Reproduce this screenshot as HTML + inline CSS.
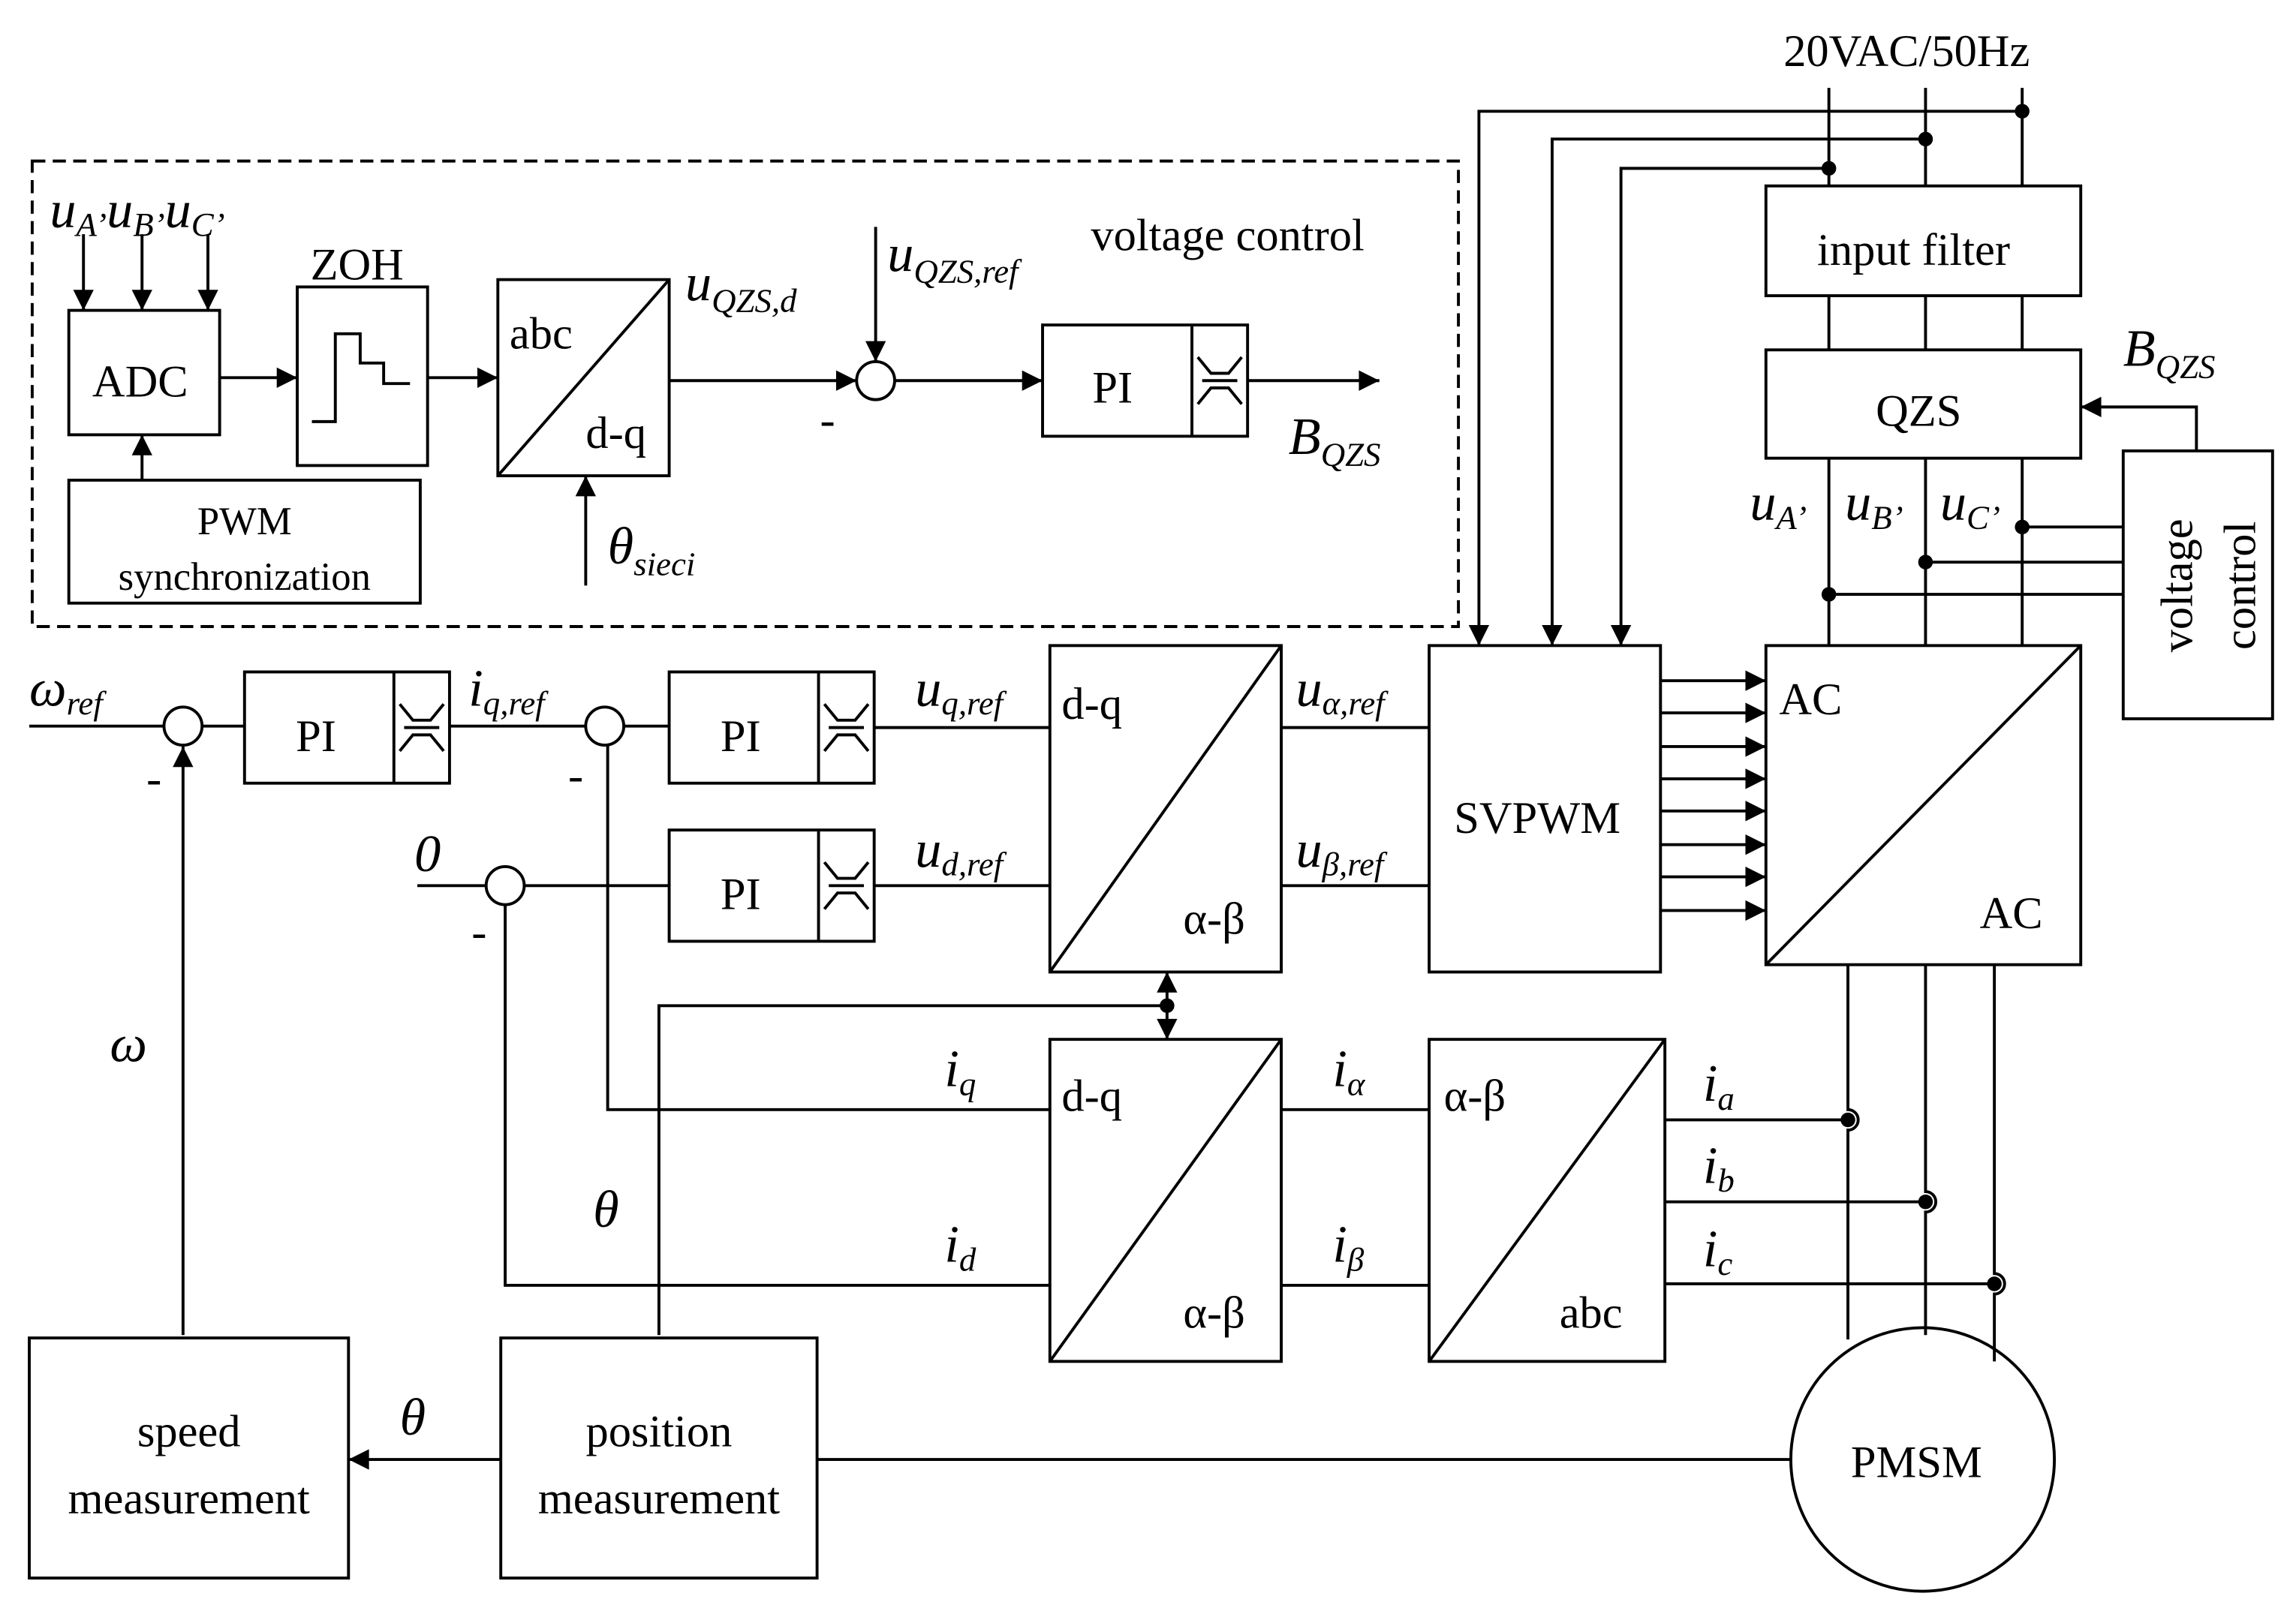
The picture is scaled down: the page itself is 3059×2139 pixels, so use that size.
<!DOCTYPE html>
<html><head><meta charset="utf-8"><style>
html,body{margin:0;padding:0;background:#fff}
svg{display:block}
text{font-family:"Liberation Serif",serif;fill:#000}
.i{font-style:italic}
</style></head><body>
<svg width="3059" height="2139" viewBox="0 0 1568 1096.4" xmlns="http://www.w3.org/2000/svg">
<defs>
<marker id="a" viewBox="0 0 10 10" refX="10" refY="5" markerWidth="22" markerHeight="14" markerUnits="userSpaceOnUse" orient="auto"><path d="M0,0L10,5L0,10z"/></marker>
<g id="sat"><path d="M-15,-16L-6,-5H6L15,-16M-15,16L-6,5H6L15,16M-12,0H12" fill="none" stroke="#000" stroke-width="2"/></g>
</defs>
<g fill="none" stroke="#000" stroke-width="2">
<rect x="22" y="110" width="974" height="318" stroke-dasharray="9,5"/>
<rect x="47" y="212" width="103" height="85"/>
<rect x="47" y="328" width="240" height="84"/>
<rect x="203" y="196" width="89" height="122"/>
<path d="M213,288H229V228H246V248H262V262H280"/>
<rect x="340" y="191" width="117" height="134"/><path d="M340,325L457,191"/>
<circle cx="598" cy="260" r="13"/>
<rect x="712" y="222" width="140" height="76"/><path d="M814,222V298"/>
<g marker-end="url(#a)">
<path d="M57,160V212"/><path d="M97,160V212"/><path d="M142,160V212"/><path d="M97,328V297"/><path d="M150,258H203"/><path d="M292,258H340"/><path d="M400,400V325"/><path d="M457,260H585"/><path d="M598,155V247"/><path d="M611,260H712"/><path d="M852,260H942"/>
<path d="M1381,76H1010V441"/><path d="M1315,95H1060V441"/><path d="M1249,115H1107V441"/>
<path d="M1500,308V278H1421"/>
<path d="M1134,465H1206"/><path d="M1134,487H1206"/><path d="M1134,510H1206"/><path d="M1134,532H1206"/><path d="M1134,554H1206"/><path d="M1134,577H1206"/><path d="M1134,599H1206"/><path d="M1134,622H1206"/>
<path d="M125,912V510"/><path d="M797,687V664"/><path d="M797,687V710"/>
<path d="M342,997H238"/>
</g>
<path d="M1249,60V127M1315,60V127M1381,60V127"/>
<rect x="1206" y="127" width="215" height="75"/>
<path d="M1249,202V239M1315,202V239M1381,202V239"/>
<rect x="1206" y="239" width="215" height="74"/>
<path d="M1249,313V441M1315,313V441M1381,313V441"/>
<rect x="1450" y="308" width="102" height="183"/>
<path d="M1450,360H1381M1450,384H1315M1450,406H1249"/>
<rect x="1206" y="441" width="215" height="218"/><path d="M1206,659L1421,441"/>
<rect x="976" y="441" width="158" height="223"/>
<path d="M1262,659V758a7,7 0 0 1 0,14V915M1315,659V814a7,7 0 0 1 0,14V912M1362,659V870a7,7 0 0 1 0,14V930"/>
<circle cx="1313" cy="997" r="90"/>
<path d="M20,496H112M138,496H167M307,496H400M426,496H457M597,497H717M285,605H332M358,605H457M597,605H717M875,497H976M875,605H976"/>
<circle cx="125" cy="496" r="13"/><circle cx="413" cy="496" r="13"/><circle cx="345" cy="605" r="13"/>
<rect x="167" y="459" width="140" height="76"/><path d="M269,459V535"/>
<rect x="457" y="459" width="140" height="76"/><path d="M559,459V535"/>
<rect x="457" y="567" width="140" height="76"/><path d="M559,567V643"/>
<rect x="717" y="441" width="158" height="223"/><path d="M717,664L875,441"/>
<rect x="717" y="710" width="158" height="220"/><path d="M717,930L875,710"/>
<rect x="976" y="710" width="161" height="220"/><path d="M976,930L1137,710"/>
<path d="M450,912V687H797"/>
<path d="M717,758H415V509M717,878H345V618M875,758H976M875,878H976"/>
<path d="M1137,765H1262M1137,821H1315M1137,877H1362"/>
<rect x="20" y="914" width="218" height="164"/>
<rect x="342" y="914" width="216" height="164"/>
<path d="M1223,997H558"/>
</g>
<circle cx="1381" cy="76" r="5"/><circle cx="1315" cy="95" r="5"/><circle cx="1249" cy="115" r="5"/>
<circle cx="1381" cy="360" r="5"/><circle cx="1315" cy="384" r="5"/><circle cx="1249" cy="406" r="5"/>
<circle cx="797" cy="687" r="5"/>
<circle cx="1262" cy="765" r="5"/><circle cx="1315" cy="821" r="5"/><circle cx="1362" cy="877" r="5"/>
<use href="#sat" x="833" y="260"/><use href="#sat" x="288" y="497"/><use href="#sat" x="578" y="497"/><use href="#sat" x="578" y="605"/>
<g font-size="31">
<text x="63" y="271">ADC</text>
<text x="167" y="365" font-size="27" text-anchor="middle">PWM</text>
<text x="167" y="403" font-size="27" text-anchor="middle">synchronization</text>
<text x="212" y="191">ZOH</text>
<text x="348" y="238">abc</text>
<text x="400" y="306">d-q</text>
<text x="745" y="171">voltage control</text>
<text x="746" y="275">PI</text>
<text x="1218" y="45">20VAC/50Hz</text>
<text x="1241" y="181">input filter</text>
<text x="1281" y="291">QZS</text>
<text x="1215" y="488">AC</text>
<text x="1352" y="634">AC</text>
<text x="993" y="569">SVPWM</text>
<text x="202" y="513">PI</text>
<text x="492" y="513">PI</text>
<text x="492" y="621">PI</text>
<text x="725" y="491">d-q</text>
<text x="808" y="638">α-β</text>
<text x="725" y="759">d-q</text>
<text x="808" y="907">α-β</text>
<text x="986" y="759">α-β</text>
<text x="1065" y="907">abc</text>
<text x="1264" y="1009">PMSM</text>
<text x="129" y="988" text-anchor="middle">speed</text>
<text x="129" y="1034" text-anchor="middle">measurement</text>
<text x="450" y="988" text-anchor="middle">position</text>
<text x="450" y="1034" text-anchor="middle">measurement</text>
<text transform="translate(1497,400) rotate(-90)" text-anchor="middle">voltage</text>
<text transform="translate(1540,400) rotate(-90)" text-anchor="middle">control</text>
<text x="560" y="297">-</text><text x="100" y="542">-</text><text x="388" y="540">-</text><text x="322" y="647">-</text>
</g>
<g font-size="36" class="i">
<text x="34" y="155">u<tspan font-size="23" dy="6">A’</tspan><tspan dy="-6">u</tspan><tspan font-size="23" dy="6">B’</tspan><tspan dy="-6">u</tspan><tspan font-size="23" dy="6">C’</tspan></text>
<text x="415" y="385">θ<tspan font-size="23" dy="8">sieci</tspan></text>
<text x="468" y="205">u<tspan font-size="23" dy="8">QZS,d</tspan></text>
<text x="606" y="185">u<tspan font-size="23" dy="8">QZS,ref</tspan></text>
<text x="880" y="310">B<tspan font-size="23" dy="8">QZS</tspan></text>
<text x="1450" y="250">B<tspan font-size="23" dy="8">QZS</tspan></text>
<text x="1195" y="355">u<tspan font-size="23" dy="6">A’</tspan></text>
<text x="1260" y="355">u<tspan font-size="23" dy="6">B’</tspan></text>
<text x="1325" y="355">u<tspan font-size="23" dy="6">C’</tspan></text>
<text x="20" y="482">ω<tspan font-size="23" dy="6">ref</tspan></text>
<text x="320" y="482">i<tspan font-size="23" dy="6">q,ref</tspan></text>
<text x="625" y="482">u<tspan font-size="23" dy="6">q,ref</tspan></text>
<text x="625" y="592">u<tspan font-size="23" dy="6">d,ref</tspan></text>
<text x="885" y="482">u<tspan font-size="23" dy="6">α,ref</tspan></text>
<text x="885" y="592">u<tspan font-size="23" dy="6">β,ref</tspan></text>
<text x="283" y="595">0</text>
<text x="75" y="725">ω</text>
<text x="405" y="838">θ</text>
<text x="273" y="980">θ</text>
<text x="645" y="742">i<tspan font-size="23" dy="6">q</tspan></text>
<text x="645" y="862">i<tspan font-size="23" dy="6">d</tspan></text>
<text x="910" y="742">i<tspan font-size="23" dy="6">α</tspan></text>
<text x="910" y="862">i<tspan font-size="23" dy="6">β</tspan></text>
<text x="1163" y="752">i<tspan font-size="23" dy="6">a</tspan></text>
<text x="1163" y="808">i<tspan font-size="23" dy="6">b</tspan></text>
<text x="1163" y="865">i<tspan font-size="23" dy="6">c</tspan></text>
</g>
</svg>
</body></html>
